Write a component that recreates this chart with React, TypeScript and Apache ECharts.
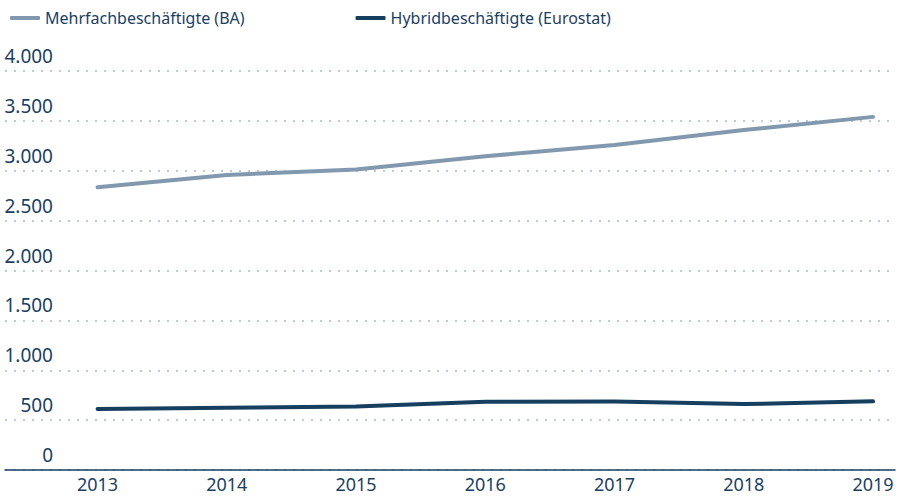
import React, { useEffect, useRef } from "react";
import * as echarts from "echarts";

const years = [2013, 2014, 2015, 2016, 2017, 2018, 2019];
const mehrfach = [2835, 2958, 3012, 3145, 3258, 3408, 3540];
const hybrid = [611, 624, 636, 684, 686, 661, 688];
const seriesNames = ["Mehrfachbeschäftigte (BA)", "Hybridbeschäftigte (Eurostat)"];

const FONT = "'Noto Sans', sans-serif";
const TEXT = "#1d3f5e";
const LIGHT = "#8198ae";
const DARK = "#163e5f";

function fmt(v: number) {
  return String(Math.round(v)).replace(/\B(?=(\d{3})+(?!\d))/g, ".");
}

export default function App() {
  const ref = useRef<HTMLDivElement>(null);
  useEffect(() => {
    if (!ref.current) return;
    const chart = echarts.init(ref.current, null, { renderer: "svg" });
    chart.setOption({
      animation: false,
      backgroundColor: "#ffffff",
      textStyle: { fontFamily: FONT, color: TEXT },
      legend: {
        left: 5,
        top: 5,
        itemWidth: 30,
        itemHeight: 4,
        itemGap: 111,
        icon: "roundRect",
        textStyle: { fontFamily: FONT, fontSize: 16, color: TEXT },
        data: seriesNames,
      },
      grid: { left: 5, right: 5, top: 71, bottom: 27, containLabel: false },
      xAxis: {
        type: "value",
        min: 2012.284,
        max: 2019.17,
        axisLine: { show: true, lineStyle: { color: DARK, width: 1.5 } },
        axisTick: { show: false },
        splitLine: { show: false },
        axisLabel: {
          customValues: years,
          formatter: (v: number) => String(v),
          fontFamily: FONT,
          fontSize: 18,
          color: TEXT,
          margin: 5,
        },
      },
      yAxis: {
        type: "value",
        min: 0,
        max: 4000,
        interval: 500,
        axisLine: { show: false },
        axisTick: { show: false },
        splitLine: {
          show: true,
          lineStyle: { color: "#a9b9cb", width: 1.5, type: [2, 7] },
        },
        axisLabel: {
          inside: true,
          align: "right",
          verticalAlign: "bottom",
          lineHeight: 30,
          margin: 48,
          fontFamily: FONT,
          fontSize: 19,
          color: TEXT,
          formatter: (v: number) => fmt(v),
        },
      },
      series: [
        {
          name: seriesNames[0],
          type: "line",
          data: years.map((y, i) => [y, mehrfach[i]]),
          showSymbol: false,
          symbol: "none",
          lineStyle: { color: LIGHT, width: 4, cap: "round", join: "round" },
          itemStyle: { color: LIGHT },
        },
        {
          name: seriesNames[1],
          type: "line",
          data: years.map((y, i) => [y, hybrid[i]]),
          showSymbol: false,
          symbol: "none",
          lineStyle: { color: DARK, width: 4, cap: "round", join: "round" },
          itemStyle: { color: DARK },
        },
      ],
    });
    return () => chart.dispose();
  }, []);
  return <div ref={ref} style={{ width: 900, height: 497, position: "absolute", left: 0, top: 0 }} />;
}
